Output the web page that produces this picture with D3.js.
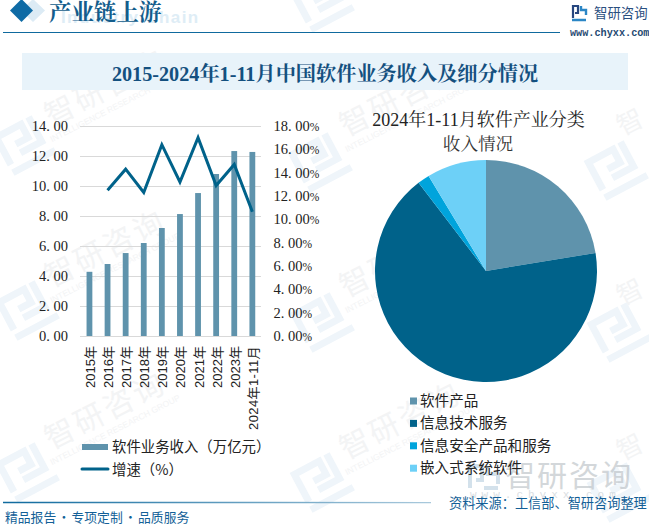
<!DOCTYPE html>
<html><head><meta charset="utf-8">
<script src="https://cdn.jsdelivr.net/npm/d3@7"></script>
<style>html,body{margin:0;padding:0;background:#fff}svg{display:block}</style></head>
<body><svg id="c" width="649" height="525"></svg>
<script>
const categories=["2015年","2016年","2017年","2018年","2019年","2020年","2021年","2022年","2023年","2024年1-11月"];
const revenue=[4.28,4.8,5.53,6.2,7.2,8.13,9.53,10.8,12.33,12.27];
const growth=[null,12.5,14.3,12.3,16.4,13.2,17.0,12.9,14.7,10.65];
const leftTicks=[0,2,4,6,8,10,12,14];
const rightTicks=[0,2,4,6,8,10,12,14,16,18];
const pieNames=["软件产品","信息技术服务","信息安全产品和服务","嵌入式系统软件"];
const pieValues=[22.4,67.2,1.75,8.65];
const pieColors=["#5f93ac","#00628a","#00a4dc","#6dd0f7"];
const serif="'Liberation Serif','Noto Serif CJK SC','Noto Sans CJK SC',serif";
const cjk="'Noto Sans CJK SC',sans-serif";
const svg=d3.select("#c");
const defs=svg.append("defs");
const g1=defs.append("linearGradient").attr("id","fade");
g1.append("stop").attr("offset","0").attr("stop-color","#0f6a9e");
g1.append("stop").attr("offset","1").attr("stop-color","#a9c9dc");
// watermarks
const wm=svg.append("g");
[[110,97],[110,258],[110,420],[405,107],[405,268],[405,430]].forEach(([x,y])=>{
  const g=wm.append("g").attr("transform",`translate(${x},${y}) rotate(-27)`);
  g.append("text").attr("text-anchor","middle").attr("font-family",cjk).attr("font-size",30).attr("letter-spacing",3).attr("fill","#f3f4f5").text("智研咨询");
  g.append("text").attr("text-anchor","middle").attr("y",14).attr("font-family","'Liberation Sans'").attr("font-size",8.5).attr("fill","#f3f4f5").text("INTELLIGENCE RESEARCH GROUP");
});
[[634,130],[634,300],[634,455]].forEach(([x,y])=>{
  wm.append("text").attr("transform",`translate(${x},${y}) rotate(-27)`).attr("text-anchor","middle").attr("font-family",cjk).attr("font-size",26).attr("fill","#f3f4f5").text("智");
});
[[22,143],[25,308],[25,470],[320,0],[318,160],[320,320],[320,480],[614,168],[617,330],[617,490]].forEach(([x,y])=>{
  const g=wm.append("g").attr("transform",`translate(${x},${y}) rotate(-28)`).attr("fill","none").attr("stroke","#eff5fa").attr("stroke-width",7);
  g.append("path").attr("d","M-20,14V-17H8V-2H-6");
  g.append("path").attr("d","M18,-20V8H-6M-22,22H26");
});
// header
svg.append("path").attr("d","M33,-1L45,10.5L33,22L21,10.5Z").attr("fill","#dcebf5");
svg.append("path").attr("d","M21.5,-1L33,10.5L21.5,22L10,10.5Z").attr("fill","#0f6ba5");
svg.append("text").attr("x",61).attr("y",23).attr("font-family","'Liberation Sans'").attr("font-weight","bold").attr("font-size",17).attr("letter-spacing",1.4).attr("fill","#deedf6").text("Industry Chain");
svg.append("text").attr("x",49).attr("y",20).attr("font-family",serif).attr("font-size",22.5).attr("font-weight","bold").attr("fill","#135d8c").text("产业链上游");
svg.append("line").attr("x1",3).attr("x2",560).attr("y1",32.5).attr("y2",32.5).attr("stroke","#0f6a9e").attr("stroke-width",1.2);
const lg=svg.append("g").attr("transform","translate(572,5)");
lg.append("path").attr("d","M1,13V1H6V8H3").attr("fill","none").attr("stroke","#27467f").attr("stroke-width",2.2);
lg.append("path").attr("d","M9,1V5H14V10M0,15H14").attr("fill","none").attr("stroke","#2b86c5").attr("stroke-width",2.4);
svg.append("text").attr("x",594).attr("y",17.5).attr("font-family",cjk).attr("font-size",13.4).attr("fill","#2a4f7f").text("智研咨询");
svg.append("text").attr("x",570).attr("y",35.5).attr("font-family","'Liberation Mono'").attr("font-size",10.2).attr("font-weight","bold").attr("fill","#1f4a72").text("www.chyxx.com");
svg.append("rect").attr("x",22).attr("y",53).attr("width",606).attr("height",37).attr("fill","#e8f3fa");
svg.append("text").attr("x",325).attr("y",81).attr("text-anchor","middle").attr("font-family",serif).attr("font-weight","bold").attr("font-size",20.2).attr("fill","#14507f").text("2015-2024年1-11月中国软件业务收入及细分情况");

// bar + line chart
const x=d3.scaleBand().domain(categories).range([80.4,261.4]);
const yL=d3.scaleLinear().domain([0,14]).range([336,126]);
const yR=d3.scaleLinear().domain([0,18]).range([336,126]);
const chart=svg.append("g");
function wide(sel){
  sel.each(function(){
    const t=d3.select(this), s=t.text(), dot=s.indexOf(".")+1;
    const pct=s.endsWith("%");
    t.text(null).attr("font-family",serif).attr("font-size",14.5).attr("fill","#222");
    t.append("tspan").text(s.slice(0,dot));
    t.append("tspan").attr("dx",3.6).text(pct?s.slice(dot,-1):s.slice(dot));
    if(pct) t.append("tspan").attr("font-size",11.5).text("%");
  });
}
const axL=d3.axisLeft(yL).tickValues(leftTicks).tickSize(0).tickPadding(12).tickFormat(d3.format(".2f"));
const ga=chart.append("g").attr("transform","translate(80,0)").call(axL);
ga.select(".domain").remove();
const axR=d3.axisRight(yR).tickValues(rightTicks).tickSize(0).tickPadding(12.5).tickFormat(d=>d.toFixed(2)+"%");
const gb=chart.append("g").attr("transform","translate(261,0)").call(axR);
gb.select(".domain").remove();
chart.selectAll(".tick text").call(wide);
chart.append("g").selectAll("line").data(leftTicks).join("line")
 .attr("x1",80).attr("x2",261).attr("y1",d=>yL(d)+.5).attr("y2",d=>yL(d)+.5).attr("stroke","#d9d9d9");
chart.append("g").selectAll("rect").data(revenue).join("rect")
 .attr("x",(d,i)=>x(categories[i])+x.bandwidth()/2-2.9).attr("width",5.8).attr("y",d=>yL(d)).attr("height",d=>yL(0)-yL(d)).attr("fill","#5f93ac");
const line=d3.line().defined(d=>d!==null).x((d,i)=>x(categories[i])+x.bandwidth()/2).y(d=>yR(d));
chart.append("path").attr("d",line(growth)).attr("fill","none").attr("stroke","#00628a").attr("stroke-width",3).attr("stroke-linejoin","miter");
chart.append("g").selectAll("text").data(categories).join("text")
 .attr("transform",d=>`translate(${x(d)+x.bandwidth()/2+5.5},346) rotate(-90)`)
 .attr("text-anchor","end").attr("font-family","'Liberation Sans','Noto Sans CJK SC',sans-serif").attr("font-size",13).attr("letter-spacing",(d,i)=>i==9?0.4:0).attr("fill","#222").text(d=>d);
// legend left
svg.append("rect").attr("x",82).attr("y",444).attr("width",26).attr("height",6).attr("fill","#5f93ac");
svg.append("text").attr("x",112).attr("y",452).attr("font-family",cjk).attr("font-size",14.4).attr("fill","#222").text("软件业务收入（万亿元）");
svg.append("line").attr("x1",82).attr("x2",108).attr("y1",469).attr("y2",469).attr("stroke","#00628a").attr("stroke-width",3).attr("stroke-linecap","round");
svg.append("text").attr("x",112).attr("y",474.5).attr("font-family",cjk).attr("font-size",14.4).attr("fill","#222").text("增速（%）");

// pie
svg.append("text").attr("x",478.5).attr("y",126).attr("text-anchor","middle").attr("font-family",serif).attr("font-size",18).attr("fill","#222").text("2024年1-11月软件产业分类");
svg.append("text").attr("x",478).attr("y",150).attr("text-anchor","middle").attr("font-family",serif).attr("font-size",17.6).attr("fill","#333").text("收入情况");
const pie=d3.pie().sort(null)(pieValues);
const arc=d3.arc().innerRadius(0).outerRadius(111);
svg.append("g").attr("transform","translate(486,271)").selectAll("path").data(pie).join("path")
 .attr("d",arc).attr("fill",(d,i)=>pieColors[i]);

// big watermark, under the legend text
const w=svg.append("g").attr("opacity",.62);
w.append("text").attr("x",505).attr("y",486).attr("font-family",cjk).attr("font-size",30).attr("fill","#b9bfc4").attr("letter-spacing",2).text("智研咨询");
w.append("path").attr("d","M470,488V466H482V480H476M488,466V474H498V484M484,488H498").attr("fill","none").attr("stroke","#b9cfe0").attr("stroke-width",4);
w.append("text").attr("x",470).attr("y",498).attr("font-family","'Liberation Mono'").attr("font-size",11).attr("letter-spacing",5).attr("fill","#c4cbd0").text("www.chyxx.com");

const pl=svg.append("g").selectAll("g").data(pieNames).join("g").attr("transform",(d,i)=>`translate(410,${401+i*22.4})`);
pl.append("rect").attr("y",-3.5).attr("width",7).attr("height",7).attr("fill",(d,i)=>pieColors[i]);
pl.append("text").attr("x",10).attr("y",5).attr("font-family",cjk).attr("font-size",14.6).attr("fill","#222").text(d=>d);

// footer
svg.append("line").attr("x1",3).attr("x2",431).attr("y1",502.5).attr("y2",502.6).attr("stroke","url(#fade)").attr("stroke-width",1.4);
svg.append("text").attr("x",449).attr("y",508).attr("font-family",cjk).attr("font-size",13.2).attr("fill","#135f97").text("资料来源：工信部、智研咨询整理");
svg.append("text").attr("x",5).attr("y",522).attr("font-family",cjk).attr("font-size",12.8).attr("word-spacing",-1.6).attr("fill","#135f97").text("精品报告 · 专项定制 · 品质服务");
</script></body></html>
